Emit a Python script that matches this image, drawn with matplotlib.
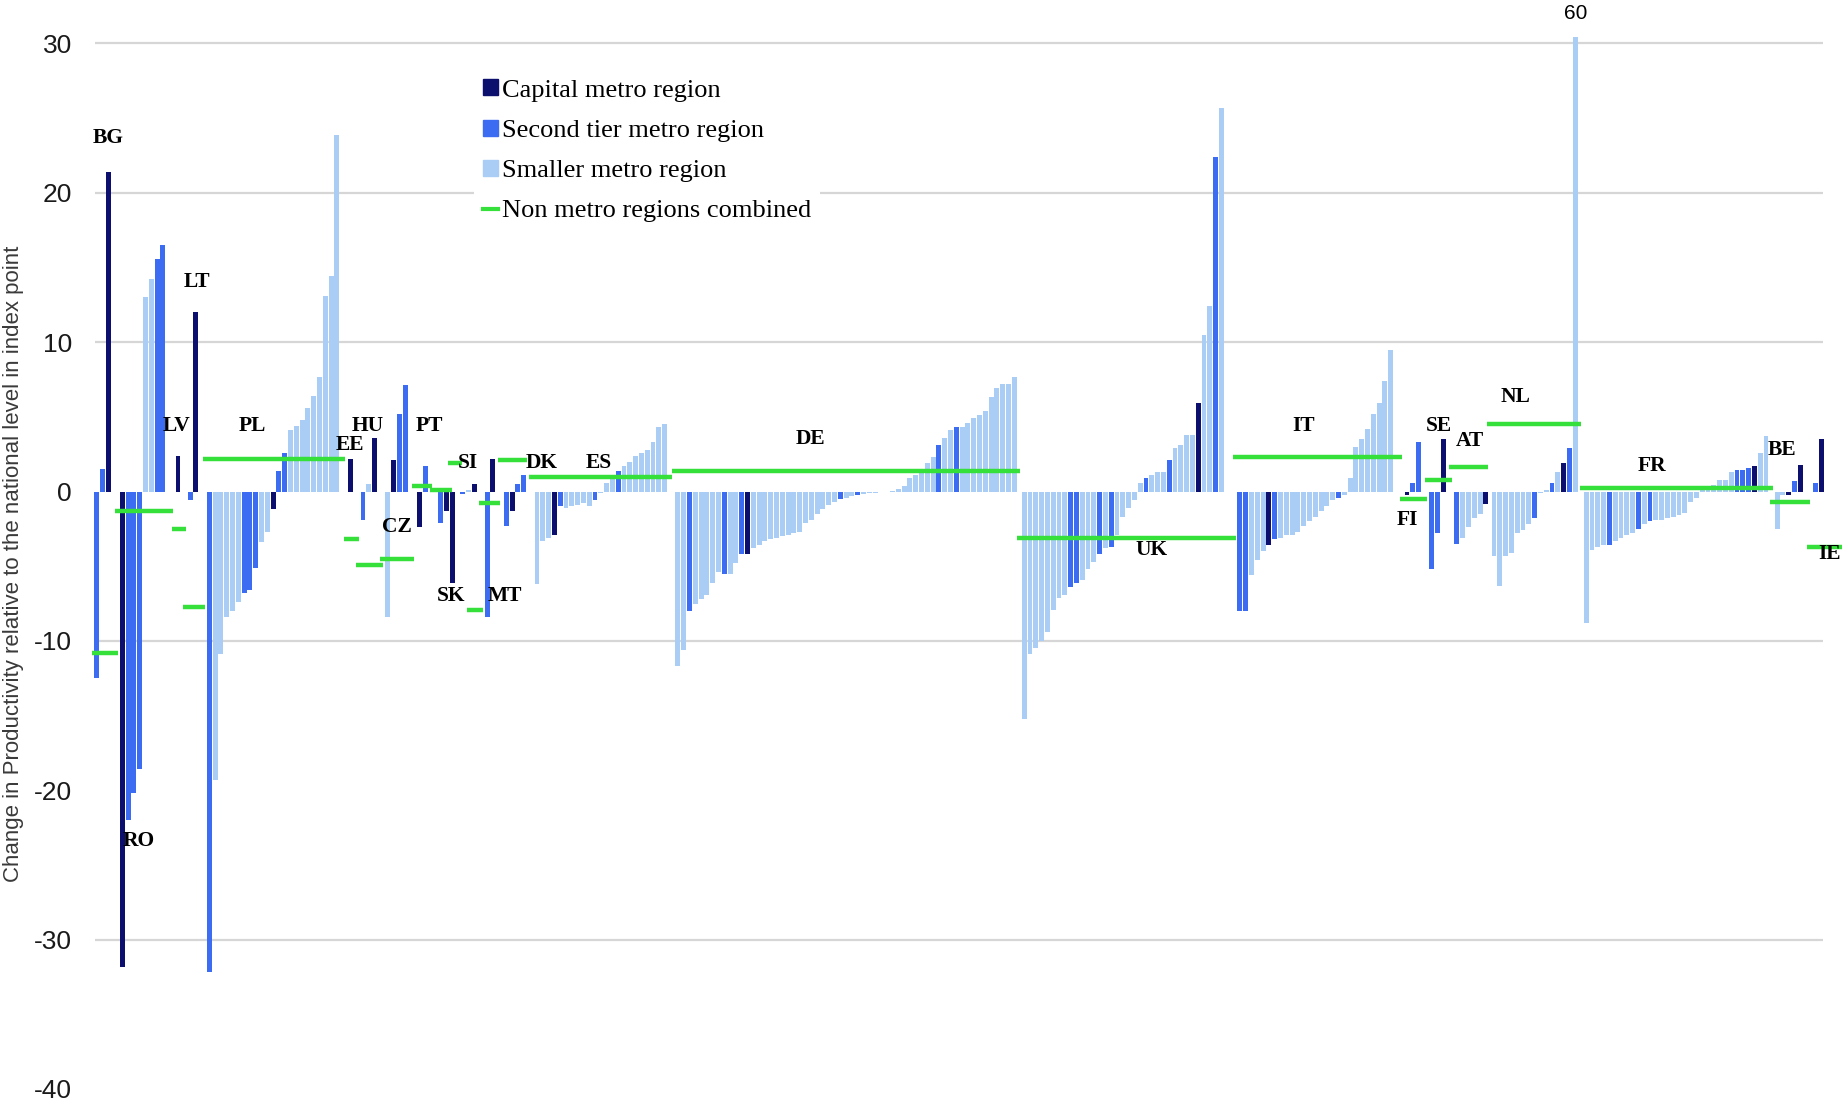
import numpy as np
import matplotlib
matplotlib.use("Agg")
import matplotlib.pyplot as plt
from matplotlib.patches import Patch
from matplotlib.lines import Line2D

# change in productivity of metro regions relative to national level (index points)
countries = ["BG", "RO", "LV", "LT", "PL", "EE", "HU", "CZ", "PT", "SK", "SI", "MT",
             "DK", "ES", "DE", "UK", "IT", "FI", "SE", "AT", "NL", "FR", "BE", "IE"]

metro_values = [
    [-12.5, 1.5, 21.4],                                             # BG
    [-31.8, -22.0, -20.2, -18.6, 13.0, 14.2, 15.6, 16.5],           # RO
    [2.4],                                                          # LV
    [-0.6, 12.0],                                                   # LT
    [-32.2, -19.3, -10.9, -8.4, -8.0, -7.4, -6.8, -6.6, -5.1, -3.4, -2.7, -1.2,
     1.4, 2.6, 4.1, 4.4, 4.8, 5.6, 6.4, 7.7, 13.1, 14.4, 23.9],     # PL
    [2.2],                                                          # EE
    [-1.9, 0.5, 3.6],                                               # HU
    [-8.4, 2.1, 5.2, 7.1],                                          # CZ
    [-2.4, 1.7],                                                    # PT
    [-2.1, -1.3, -6.1],                                             # SK
    [-0.15, 0.1, 0.5],                                              # SI
    [-8.4, 2.2],                                                    # MT
    [-2.3, -1.3, 0.5, 1.1],                                         # DK
    [-6.2, -3.3, -3.1, -2.9, -1.0, -1.1, -1.0, -0.9, -0.8, -1.0, -0.6, -0.1,
     0.6, 1.0, 1.4, 1.7, 2.0, 2.4, 2.6, 2.8, 3.3, 4.3, 4.5],        # ES
    [-11.7, -10.6, -8.0, -7.5, -7.2, -6.9, -6.1, -5.4, -5.5, -5.5,
     -4.8, -4.2, -4.2, -3.8, -3.6, -3.3, -3.2, -3.1, -3.0, -2.9,
     -2.8, -2.7, -2.1, -1.9, -1.5, -1.2, -0.9, -0.7, -0.5, -0.4,
     -0.3, -0.2, -0.15, -0.1, -0.1, -0.05, 0.0, 0.05, 0.2, 0.4,
     0.9, 1.1, 1.4, 1.9, 2.3, 3.1, 3.6, 4.1, 4.3, 4.3,
     4.6, 4.9, 5.1, 5.4, 6.3, 6.9, 7.2, 7.2, 7.7],                  # DE
    [-15.2, -10.9, -10.5, -10.0, -9.4, -7.9, -7.1, -6.9, -6.4, -6.1,
     -5.9, -5.2, -4.7, -4.2, -3.8, -3.7, -2.9, -1.7, -1.1, -0.6,
     0.6, 0.9, 1.1, 1.3, 1.3, 2.1, 2.9, 3.1, 3.8, 3.8,
     5.9, 10.5, 12.4, 22.4, 25.7],                                  # UK
    [-8.0, -8.0, -5.6, -4.6, -4.0, -3.6, -3.2, -3.1, -2.9, -2.9,
     -2.7, -2.3, -2.0, -1.7, -1.3, -1.0, -0.6, -0.4, -0.2,
     0.9, 3.0, 3.5, 4.2, 5.2, 5.9, 7.4, 9.5],                       # IT
    [-0.2, 0.6, 3.3],                                               # FI
    [-5.2, -2.8, 3.5],                                              # SE
    [-3.5, -3.1, -2.4, -1.8, -1.5, -0.85],                          # AT
    [-4.3, -6.3, -4.3, -4.1, -2.8, -2.6, -2.2, -1.8, -0.1, 0.1,
     0.6, 1.3, 1.9, 2.9, 60.0],                                     # NL
    [-8.8, -3.9, -3.7, -3.6, -3.6, -3.3, -3.1, -2.9, -2.8, -2.5,
     -2.2, -2.0, -1.9, -1.9, -1.8, -1.7, -1.6, -1.45, -0.7, -0.4,
     0.2, 0.3, 0.45, 0.8, 0.8, 1.3, 1.45, 1.45, 1.6, 1.7,
     2.6, 3.7],                                                     # FR
    [-2.5, -0.2, -0.2, 0.7, 1.8],                                   # BE
    [0.55, 3.5],                                                    # IE
]

# C = capital metro, S = second tier metro, M = smaller metro
metro_kinds = [
    "SSC", "CSSSMMSS", "C", "SC",
    "SMMMMMSSSMMCSS" "MMMMMMMMM",
    "C", "SMC", "MCSS", "CS", "SCC", "SMC", "SC", "SCSS",
    "MMMCSMMMMMSMMMSMMMMMMMM",
    "MMSMMMMMSMMSC" "MMMMMMMMMMMMMMM" "S" "MMS" "MMMMMMMMMMMMM" "S" "MMS" "MMMMMMMMMM",
    "MMMMMMMMSS" "MMMSMS" "MMMMM" "SMMMS" "MMMM" "CMMSM",
    "SSMMMCS" "MMMMMMMMMM" "S" "MMMMMMMMM",
    "CSS", "SSC", "SMMMMC",
    "MMMMMMMSMMSMCSM",
    "MMMMSMMMMSMS" "MMMMMMMMMMMMMM" "SSSC" "MM",
    "MMCSC", "SC",
]

nonmetro_values = [-10.8, -1.3, -2.5, -7.7, 2.2, -3.2, -4.9, -4.5, 0.35, 0.1, 1.9,
                   -7.9, -0.8, 2.1, 1.0, 1.4, -3.1, 2.3, -0.5, 0.8, 1.65, 4.5,
                   0.25, -0.7, -3.7]

legend_labels = ["Capital metro region", "Second tier metro region",
                 "Smaller metro region", "Non metro regions combined"]
ylabel = "Change in Productivity relative to the national level in index point"

# ---- layout (slot units along x) ----
group_start = [0.3, 4.7, 14.3, 16.4, 19.7, 44.1, 46.2, 50.5, 55.9, 59.6, 63.4, 67.6,
               70.9, 76.2, 100.5, 160.2, 197.4, 226.2, 230.5, 234.8, 241.2, 257.1,
               290.0, 296.6]
nonmetro_span = [(-0.9, 4.0), (3.4, 13.4), (13.3, 15.7), (15.2, 19.0), (18.6, 43.1),
                 (42.9, 45.5), (45.0, 49.7), (49.1, 55.0), (54.7, 58.1), (57.8, 61.6),
                 (60.9, 63.3), (64.1, 66.9), (66.2, 69.8), (69.5, 74.5), (74.8, 99.5),
                 (99.5, 159.5), (159.0, 196.7), (196.2, 225.3), (225.0, 229.7),
                 (229.3, 234.0), (233.4, 240.2), (240.0, 256.2), (256.0, 289.3),
                 (288.8, 295.7), (295.2, 301.5)]
label_pos = [(2.2, 23.7), (7.5, -23.4), (14.0, 4.4), (17.6, 14.0), (27.2, 4.4),
             (44.0, 3.1), (47.0, 4.4), (52.1, -2.4), (57.6, 4.4), (61.4, -7.0),
             (64.2, 1.9), (70.7, -7.0), (77.0, 1.9), (86.9, 1.9), (123.4, 3.5),
             (182.1, -3.9), (208.4, 4.4), (226.2, -1.9), (231.7, 4.4), (237.0, 3.4),
             (244.9, 6.3), (268.4, 1.7), (290.9, 2.8), (299.0, -4.2)]

colours = {"C": "#0d0f6e", "S": "#3b6cf2", "M": "#a9cdf4"}
green = "#35e03a"

fig = plt.figure(figsize=(18.42, 11.02), dpi=100)
ax = fig.add_axes([0.0497, 0.0118, 0.9503, 0.9542])
ax.set_xlim(-0.6, 301.2)
ax.set_ylim(-40, 30.4)

# grid (the reference only draws some of the lines)
ax.hlines([30, 20, 10, -10, -30], 0, 297.9, color="#d6d6d6", lw=1.6, zorder=0)

for start, vals, kinds in zip(group_start, metro_values, metro_kinds):
    xs = start + np.arange(len(vals))
    cols = [colours[k] for k in kinds]
    ax.bar(xs, vals, width=0.85, color=cols, linewidth=0, zorder=2)
    for x, v in zip(xs, vals):
        if v > 30.4:
            ax.text(x, 32.0, f"{v:.0f}", ha="center", va="center", fontsize=15,
                    family="Liberation Sans", clip_on=False)

for (x0, x1), v in zip(nonmetro_span, nonmetro_values):
    ax.plot([x0, x1], [v, v], color=green, lw=3.2, solid_capstyle="butt", zorder=3)

for name, (x, y) in zip(countries, label_pos):
    ax.text(x, y, name, ha="center", va="center", fontsize=15.5, fontweight="bold",
            family="Liberation Serif", zorder=4)

ax.set_yticks(np.arange(-40, 31, 10))
ax.set_yticklabels([str(t) for t in range(-40, 31, 10)], family="Liberation Sans",
                   fontsize=19, color="#1a1a1a")
ax.tick_params(axis="y", length=0, pad=14)
ax.set_xticks([])
for sp in ax.spines.values():
    sp.set_visible(False)

fig.text(0.0076, 0.488, ylabel, rotation=90, ha="center", va="center",
         fontsize=16, color="#3a3a3a", family=["Liberation Sans Narrow", "Liberation Sans"])

handles = [Patch(color=colours["C"]), Patch(color=colours["S"]), Patch(color=colours["M"]),
           Line2D([], [], color=green, lw=3)]
leg = fig.legend(handles, legend_labels, loc="upper left",
                 bbox_to_anchor=(461 / 1842, 1 - 57 / 1102), frameon=True,
                 facecolor="white", edgecolor="none", framealpha=1, fancybox=False,
                 prop={"family": "Liberation Serif", "size": 19},
                 handlelength=0.55, handleheight=0.55, handletextpad=0.15,
                 labelspacing=0.68, borderpad=0.35)
leg.set_zorder(5)

fig.savefig("out.png", dpi=100, facecolor="white")
